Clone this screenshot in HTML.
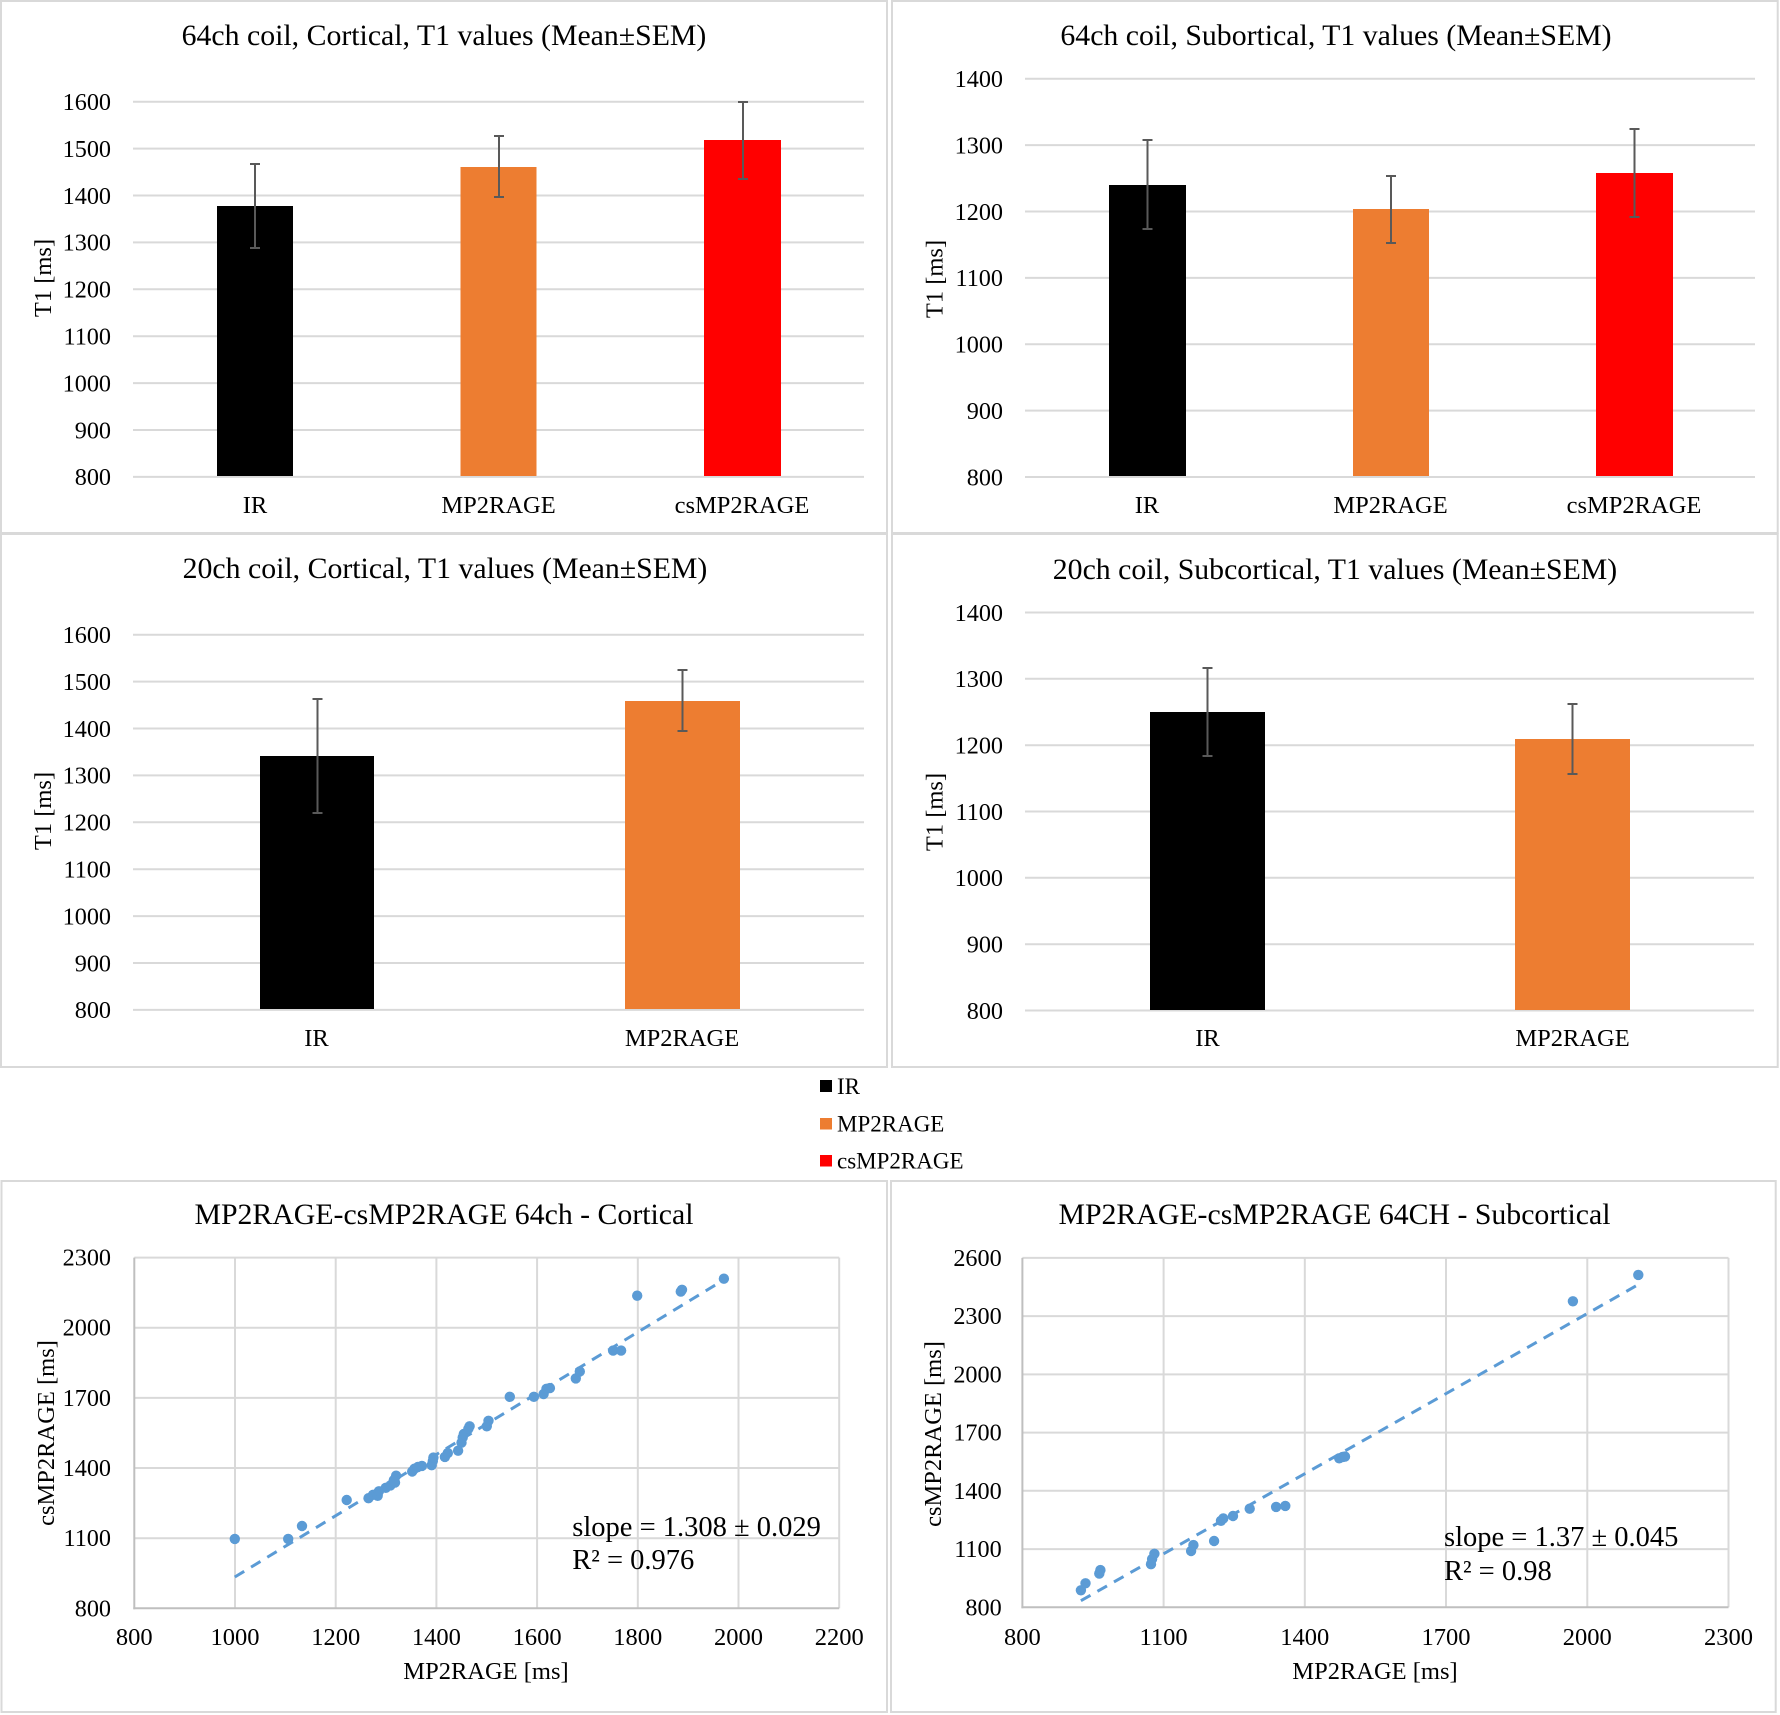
<!DOCTYPE html>
<html>
<head>
<meta charset="utf-8">
<style>
html,body{margin:0;padding:0;background:#fff;}
svg{display:block;}
text{font-family:"Liberation Serif","Times New Roman",serif;fill:#000;}
.t{font-size:29.8px;text-anchor:middle;}
.yt{font-size:24.2px;text-anchor:end;}
.xt{font-size:24.5px;text-anchor:middle;}
.at{font-size:24.5px;text-anchor:middle;}
.an{font-size:28.5px;}
.lg{font-size:23px;}
.g{stroke:#d9d9d9;stroke-width:2;fill:none;}
.ax{stroke:#bfbfbf;stroke-width:2;fill:none;}
.pb{stroke:#d9d9d9;stroke-width:2;fill:none;}
.eb{stroke:#595959;stroke-width:2;fill:none;}
.pt{fill:#5b9bd5;}
.tr{stroke:#5b9bd5;stroke-width:3;stroke-dasharray:11 8;fill:none;}
</style>
</head>
<body>
<svg width="1780" height="1715" viewBox="0 0 1780 1715" xmlns="http://www.w3.org/2000/svg">
<rect x="0" y="0" width="1780" height="1715" fill="#fff"/>

<!-- Panel borders -->
<rect class="pb" x="1" y="1" width="886" height="532"/>
<rect class="pb" x="892" y="1" width="885.7" height="532"/>
<rect class="pb" x="1" y="534" width="886" height="533"/>
<rect class="pb" x="892" y="534" width="885.7" height="533"/>
<rect class="pb" x="1.5" y="1181" width="885.5" height="531"/>
<rect class="pb" x="891" y="1181" width="884.7" height="531"/>

<!-- ========== Panel 1 ========== -->
<text class="t" x="444" y="45">64ch coil, Cortical, T1 values (Mean±SEM)</text>
<g class="g">
<line x1="133" y1="101.7" x2="864" y2="101.7"/>
<line x1="133" y1="148.6" x2="864" y2="148.6"/>
<line x1="133" y1="195.5" x2="864" y2="195.5"/>
<line x1="133" y1="242.4" x2="864" y2="242.4"/>
<line x1="133" y1="289.3" x2="864" y2="289.3"/>
<line x1="133" y1="336.2" x2="864" y2="336.2"/>
<line x1="133" y1="383.1" x2="864" y2="383.1"/>
<line x1="133" y1="430.0" x2="864" y2="430.0"/>
<line x1="133" y1="476.9" x2="864" y2="476.9"/>
</g>
<text class="yt" x="111" y="110">1600</text>
<text class="yt" x="111" y="156.9">1500</text>
<text class="yt" x="111" y="203.8">1400</text>
<text class="yt" x="111" y="250.7">1300</text>
<text class="yt" x="111" y="297.6">1200</text>
<text class="yt" x="111" y="344.5">1100</text>
<text class="yt" x="111" y="391.4">1000</text>
<text class="yt" x="111" y="438.3">900</text>
<text class="yt" x="111" y="485.2">800</text>
<rect x="217" y="206" width="76" height="270" fill="#000"/>
<rect x="460.5" y="167" width="76" height="309" fill="#ed7d31"/>
<rect x="704" y="140" width="77" height="336" fill="#ff0000"/>
<path class="eb" d="M255 164V248M250 164H260M250 248H260"/>
<path class="eb" d="M499 136V197M494 136H504M494 197H504"/>
<path class="eb" d="M743 102V179M738 102H748M738 179H748"/>
<text class="xt" x="255" y="513">IR</text>
<text class="xt" x="498.5" y="513">MP2RAGE</text>
<text class="xt" x="742" y="513">csMP2RAGE</text>
<text class="at" transform="translate(51,278) rotate(-90)">T1 [ms]</text>

<!-- ========== Panel 2 ========== -->
<text class="t" x="1336" y="45">64ch coil, Subortical, T1 values (Mean±SEM)</text>
<g class="g">
<line x1="1025" y1="78.7" x2="1755" y2="78.7"/>
<line x1="1025" y1="145.1" x2="1755" y2="145.1"/>
<line x1="1025" y1="211.5" x2="1755" y2="211.5"/>
<line x1="1025" y1="277.9" x2="1755" y2="277.9"/>
<line x1="1025" y1="344.2" x2="1755" y2="344.2"/>
<line x1="1025" y1="410.6" x2="1755" y2="410.6"/>
<line x1="1025" y1="477" x2="1755" y2="477"/>
</g>
<text class="yt" x="1003" y="87">1400</text>
<text class="yt" x="1003" y="153.4">1300</text>
<text class="yt" x="1003" y="219.8">1200</text>
<text class="yt" x="1003" y="286.2">1100</text>
<text class="yt" x="1003" y="352.5">1000</text>
<text class="yt" x="1003" y="418.9">900</text>
<text class="yt" x="1003" y="485.3">800</text>
<rect x="1109" y="185" width="77" height="291" fill="#000"/>
<rect x="1353" y="209" width="76" height="267" fill="#ed7d31"/>
<rect x="1596" y="173" width="77" height="303" fill="#ff0000"/>
<path class="eb" d="M1147.5 140V229M1142.5 140H1152.5M1142.5 229H1152.5"/>
<path class="eb" d="M1391 176V243M1386 176H1396M1386 243H1396"/>
<path class="eb" d="M1634.5 129V217M1629.5 129H1639.5M1629.5 217H1639.5"/>
<text class="xt" x="1147" y="513">IR</text>
<text class="xt" x="1390.5" y="513">MP2RAGE</text>
<text class="xt" x="1634" y="513">csMP2RAGE</text>
<text class="at" transform="translate(942.5,279) rotate(-90)">T1 [ms]</text>

<!-- ========== Panel 3 ========== -->
<text class="t" x="445" y="578">20ch coil, Cortical, T1 values (Mean±SEM)</text>
<g class="g">
<line x1="133" y1="634.7" x2="864" y2="634.7"/>
<line x1="133" y1="681.6" x2="864" y2="681.6"/>
<line x1="133" y1="728.5" x2="864" y2="728.5"/>
<line x1="133" y1="775.4" x2="864" y2="775.4"/>
<line x1="133" y1="822.3" x2="864" y2="822.3"/>
<line x1="133" y1="869.2" x2="864" y2="869.2"/>
<line x1="133" y1="916.1" x2="864" y2="916.1"/>
<line x1="133" y1="963.0" x2="864" y2="963.0"/>
<line x1="133" y1="1009.9" x2="864" y2="1009.9"/>
</g>
<text class="yt" x="111" y="643">1600</text>
<text class="yt" x="111" y="689.9">1500</text>
<text class="yt" x="111" y="736.8">1400</text>
<text class="yt" x="111" y="783.7">1300</text>
<text class="yt" x="111" y="830.6">1200</text>
<text class="yt" x="111" y="877.5">1100</text>
<text class="yt" x="111" y="924.4">1000</text>
<text class="yt" x="111" y="971.3">900</text>
<text class="yt" x="111" y="1018.2">800</text>
<rect x="260" y="756" width="114" height="253" fill="#000"/>
<rect x="625" y="701" width="115" height="308" fill="#ed7d31"/>
<path class="eb" d="M317.5 699V813M312.5 699H322.5M312.5 813H322.5"/>
<path class="eb" d="M682.5 670V731M677.5 670H687.5M677.5 731H687.5"/>
<text class="xt" x="316.5" y="1046">IR</text>
<text class="xt" x="682" y="1046">MP2RAGE</text>
<text class="at" transform="translate(51,811) rotate(-90)">T1 [ms]</text>

<!-- ========== Panel 4 ========== -->
<text class="t" x="1335" y="579">20ch coil, Subcortical, T1 values (Mean±SEM)</text>
<g class="g">
<line x1="1025" y1="612.5" x2="1754" y2="612.5"/>
<line x1="1025" y1="678.8" x2="1754" y2="678.8"/>
<line x1="1025" y1="745.2" x2="1754" y2="745.2"/>
<line x1="1025" y1="811.5" x2="1754" y2="811.5"/>
<line x1="1025" y1="877.8" x2="1754" y2="877.8"/>
<line x1="1025" y1="944.2" x2="1754" y2="944.2"/>
<line x1="1025" y1="1010.5" x2="1754" y2="1010.5"/>
</g>
<text class="yt" x="1003" y="620.8">1400</text>
<text class="yt" x="1003" y="687.1">1300</text>
<text class="yt" x="1003" y="753.5">1200</text>
<text class="yt" x="1003" y="819.8">1100</text>
<text class="yt" x="1003" y="886.1">1000</text>
<text class="yt" x="1003" y="952.5">900</text>
<text class="yt" x="1003" y="1018.8">800</text>
<rect x="1150" y="712" width="115" height="298" fill="#000"/>
<rect x="1515" y="739" width="115" height="271" fill="#ed7d31"/>
<path class="eb" d="M1207.5 668V756M1202.5 668H1212.5M1202.5 756H1212.5"/>
<path class="eb" d="M1572.5 704V774M1567.5 704H1577.5M1567.5 774H1577.5"/>
<text class="xt" x="1207.5" y="1046">IR</text>
<text class="xt" x="1572.5" y="1046">MP2RAGE</text>
<text class="at" transform="translate(942.5,812) rotate(-90)">T1 [ms]</text>

<!-- ========== Legend ========== -->
<rect x="820" y="1080" width="12" height="12" fill="#000"/>
<text class="lg" x="837" y="1094">IR</text>
<rect x="820" y="1118" width="12" height="11.5" fill="#ed7d31"/>
<text class="lg" x="837" y="1131.5">MP2RAGE</text>
<rect x="820" y="1155" width="12" height="11.5" fill="#ff0000"/>
<text class="lg" x="837" y="1168.3">csMP2RAGE</text>

<!-- ========== Panel 5 (scatter) ========== -->
<text class="t" x="444" y="1224">MP2RAGE-csMP2RAGE 64ch - Cortical</text>
<g class="g">
<line x1="235" y1="1257.6" x2="235" y2="1608.3"/>
<line x1="335.7" y1="1257.6" x2="335.7" y2="1608.3"/>
<line x1="436.4" y1="1257.6" x2="436.4" y2="1608.3"/>
<line x1="537.1" y1="1257.6" x2="537.1" y2="1608.3"/>
<line x1="637.8" y1="1257.6" x2="637.8" y2="1608.3"/>
<line x1="738.5" y1="1257.6" x2="738.5" y2="1608.3"/>
<line x1="839.2" y1="1257.6" x2="839.2" y2="1608.3"/>
<line x1="134.3" y1="1257.6" x2="839.2" y2="1257.6"/>
<line x1="134.3" y1="1327.7" x2="839.2" y2="1327.7"/>
<line x1="134.3" y1="1397.9" x2="839.2" y2="1397.9"/>
<line x1="134.3" y1="1468.0" x2="839.2" y2="1468.0"/>
<line x1="134.3" y1="1538.2" x2="839.2" y2="1538.2"/>
</g>
<g class="ax">
<line x1="134.3" y1="1257.6" x2="134.3" y2="1609.3"/>
<line x1="133.3" y1="1608.3" x2="839.2" y2="1608.3"/>
</g>
<text class="yt" x="111" y="1265.6">2300</text>
<text class="yt" x="111" y="1335.7">2000</text>
<text class="yt" x="111" y="1405.9">1700</text>
<text class="yt" x="111" y="1476">1400</text>
<text class="yt" x="111" y="1546.2">1100</text>
<text class="yt" x="111" y="1616.3">800</text>
<text class="xt" x="134.3" y="1645">800</text>
<text class="xt" x="235" y="1645">1000</text>
<text class="xt" x="335.7" y="1645">1200</text>
<text class="xt" x="436.4" y="1645">1400</text>
<text class="xt" x="537.1" y="1645">1600</text>
<text class="xt" x="637.8" y="1645">1800</text>
<text class="xt" x="738.5" y="1645">2000</text>
<text class="xt" x="839.2" y="1645">2200</text>
<text class="at" x="486" y="1679">MP2RAGE [ms]</text>
<text class="at" transform="translate(54,1433) rotate(-90)">csMP2RAGE [ms]</text>
<line class="tr" x1="234.8" y1="1577" x2="722" y2="1281"/>
<g class="pt">
<circle cx="234.8" cy="1538.9" r="5.2"/>
<circle cx="288.2" cy="1538.9" r="5.2"/>
<circle cx="302.0" cy="1526.0" r="5.2"/>
<circle cx="346.7" cy="1500.0" r="5.2"/>
<circle cx="368.5" cy="1498.2" r="5.2"/>
<circle cx="373.1" cy="1494.8" r="5.2"/>
<circle cx="377.7" cy="1495.8" r="5.2"/>
<circle cx="378.9" cy="1491.3" r="5.2"/>
<circle cx="385.8" cy="1487.8" r="5.2"/>
<circle cx="390.4" cy="1485.4" r="5.2"/>
<circle cx="395.0" cy="1482.6" r="5.2"/>
<circle cx="396.1" cy="1475.7" r="5.2"/>
<circle cx="393.8" cy="1480.2" r="5.2"/>
<circle cx="412.2" cy="1471.5" r="5.2"/>
<circle cx="414.5" cy="1468.7" r="5.2"/>
<circle cx="417.9" cy="1467.0" r="5.2"/>
<circle cx="421.9" cy="1465.9" r="5.2"/>
<circle cx="431.7" cy="1465.2" r="5.2"/>
<circle cx="432.8" cy="1461.1" r="5.2"/>
<circle cx="433.4" cy="1457.6" r="5.2"/>
<circle cx="444.9" cy="1456.9" r="5.2"/>
<circle cx="447.8" cy="1453.1" r="5.2"/>
<circle cx="458.1" cy="1450.7" r="5.2"/>
<circle cx="461.5" cy="1442.7" r="5.2"/>
<circle cx="462.7" cy="1437.5" r="5.2"/>
<circle cx="463.8" cy="1434.0" r="5.2"/>
<circle cx="468.4" cy="1428.8" r="5.2"/>
<circle cx="469.6" cy="1426.3" r="5.2"/>
<circle cx="486.8" cy="1426.3" r="5.2"/>
<circle cx="488.5" cy="1420.8" r="5.2"/>
<circle cx="509.8" cy="1396.8" r="5.2"/>
<circle cx="533.9" cy="1396.8" r="5.2"/>
<circle cx="543.6" cy="1394.0" r="5.2"/>
<circle cx="546.5" cy="1388.8" r="5.2"/>
<circle cx="549.9" cy="1388.1" r="5.2"/>
<circle cx="575.8" cy="1378.4" r="5.2"/>
<circle cx="579.8" cy="1371.5" r="5.2"/>
<circle cx="613.1" cy="1350.6" r="5.2"/>
<circle cx="621.1" cy="1350.6" r="5.2"/>
<circle cx="637.2" cy="1295.7" r="5.2"/>
<circle cx="680.8" cy="1291.6" r="5.2"/>
<circle cx="682.0" cy="1289.8" r="5.2"/>
<circle cx="723.9" cy="1278.7" r="5.2"/>
</g>
<text class="an" x="572.3" y="1536">slope = 1.308 ± 0.029</text>
<text class="an" x="572.3" y="1569">R² = 0.976</text>

<!-- ========== Panel 6 (scatter) ========== -->
<text class="t" x="1334.5" y="1224">MP2RAGE-csMP2RAGE 64CH - Subcortical</text>
<g class="g">
<line x1="1163.6" y1="1257.9" x2="1163.6" y2="1607.3"/>
<line x1="1304.8" y1="1257.9" x2="1304.8" y2="1607.3"/>
<line x1="1446.0" y1="1257.9" x2="1446.0" y2="1607.3"/>
<line x1="1587.3" y1="1257.9" x2="1587.3" y2="1607.3"/>
<line x1="1728.5" y1="1257.9" x2="1728.5" y2="1607.3"/>
<line x1="1022.4" y1="1257.9" x2="1728.5" y2="1257.9"/>
<line x1="1022.4" y1="1316.1" x2="1728.5" y2="1316.1"/>
<line x1="1022.4" y1="1374.4" x2="1728.5" y2="1374.4"/>
<line x1="1022.4" y1="1432.6" x2="1728.5" y2="1432.6"/>
<line x1="1022.4" y1="1490.8" x2="1728.5" y2="1490.8"/>
<line x1="1022.4" y1="1549.1" x2="1728.5" y2="1549.1"/>
</g>
<g class="ax">
<line x1="1022.4" y1="1257.9" x2="1022.4" y2="1608.3"/>
<line x1="1021.4" y1="1607.3" x2="1728.5" y2="1607.3"/>
</g>
<text class="yt" x="1001.7" y="1265.9">2600</text>
<text class="yt" x="1001.7" y="1324.1">2300</text>
<text class="yt" x="1001.7" y="1382.4">2000</text>
<text class="yt" x="1001.7" y="1440.6">1700</text>
<text class="yt" x="1001.7" y="1498.8">1400</text>
<text class="yt" x="1001.7" y="1557.1">1100</text>
<text class="yt" x="1001.7" y="1615.3">800</text>
<text class="xt" x="1022.4" y="1645">800</text>
<text class="xt" x="1163.6" y="1645">1100</text>
<text class="xt" x="1304.8" y="1645">1400</text>
<text class="xt" x="1446.0" y="1645">1700</text>
<text class="xt" x="1587.3" y="1645">2000</text>
<text class="xt" x="1728.5" y="1645">2300</text>
<text class="at" x="1375" y="1679">MP2RAGE [ms]</text>
<text class="at" transform="translate(941,1434) rotate(-90)">csMP2RAGE [ms]</text>
<line class="tr" x1="1080.9" y1="1600.7" x2="1638.3" y2="1284.6"/>
<g class="pt">
<circle cx="1080.9" cy="1590.3" r="5.2"/>
<circle cx="1085.5" cy="1583.3" r="5.2"/>
<circle cx="1099.3" cy="1573.6" r="5.2"/>
<circle cx="1100.4" cy="1570.1" r="5.2"/>
<circle cx="1151.0" cy="1564.2" r="5.2"/>
<circle cx="1152.1" cy="1559.0" r="5.2"/>
<circle cx="1154.4" cy="1553.8" r="5.2"/>
<circle cx="1191.1" cy="1551.0" r="5.2"/>
<circle cx="1193.4" cy="1545.1" r="5.2"/>
<circle cx="1214.1" cy="1541.0" r="5.2"/>
<circle cx="1221.0" cy="1520.8" r="5.2"/>
<circle cx="1223.3" cy="1518.4" r="5.2"/>
<circle cx="1233.0" cy="1516.0" r="5.2"/>
<circle cx="1249.7" cy="1508.7" r="5.2"/>
<circle cx="1276.1" cy="1506.9" r="5.2"/>
<circle cx="1285.3" cy="1505.9" r="5.2"/>
<circle cx="1339.2" cy="1458.3" r="5.2"/>
<circle cx="1342.7" cy="1456.9" r="5.2"/>
<circle cx="1345.0" cy="1456.6" r="5.2"/>
<circle cx="1572.9" cy="1301.3" r="5.2"/>
<circle cx="1638.3" cy="1274.9" r="5.2"/>
</g>
<text class="an" x="1444" y="1546">slope = 1.37 ± 0.045</text>
<text class="an" x="1444" y="1580">R² = 0.98</text>
</svg>
</body>
</html>
